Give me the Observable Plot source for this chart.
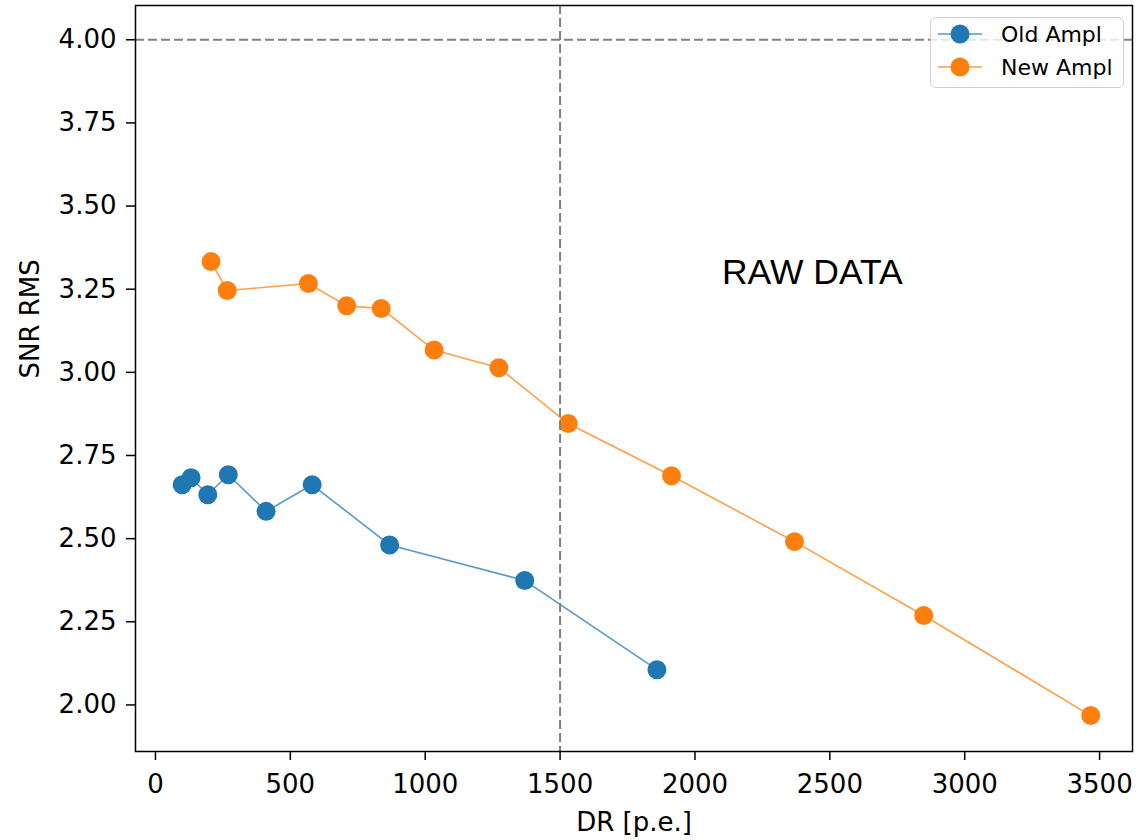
<!DOCTYPE html>
<html>
<head>
<meta charset="utf-8">
<script src="https://cdn.jsdelivr.net/npm/d3@7"></script>
<script src="https://cdn.jsdelivr.net/npm/@observablehq/plot@0.6"></script>
<style>
  html, body { margin: 0; padding: 0; background: #fff; }
  #wrap { position: relative; width: 1137px; height: 840px; }
  #legend {
    position: absolute; left: 930px; top: 17px; width: 194px; height: 71px;
    border: 1.5px solid #d0d0d0; border-radius: 6px; background: rgba(255,255,255,0.8);
    font-family: "DejaVu Sans", sans-serif; font-size: 22px; color: #000; box-sizing: border-box;
  }
  .row { position: absolute; left: 0; height: 30px; display: flex; align-items: center; }
  .row svg { margin-left: 6px; }
  .row span { margin-left: 18px; }
</style>
</head>
<body>
<div id="wrap"></div>
<script>
const oldDR  = [99, 132, 194, 270, 410, 581, 868, 1369, 1859];
const oldSNR = [2.662, 2.683, 2.632, 2.692, 2.582, 2.662, 2.481, 2.374, 2.106];
const newDR  = [206, 266, 567, 709, 837, 1033, 1273, 1530, 1913, 2369, 2848, 3467];
const newSNR = [3.333, 3.246, 3.267, 3.200, 3.192, 3.067, 3.014, 2.846, 2.689, 2.491, 2.269, 1.968];
const seriesNames = ["Old Ampl", "New Ampl"];
const seriesColors = ["#1f77b4", "#ff7f0e"];
const xTicks = [0, 500, 1000, 1500, 2000, 2500, 3000, 3500];
const yTicks = [2.00, 2.25, 2.50, 2.75, 3.00, 3.25, 3.50, 3.75, 4.00];
const hLine = 4.0;
const vLine = 1500;
const annotation = "RAW DATA";
const annX = 2100, annY = 3.265;
const xLabel = "DR [p.e.]";
const yLabel = "SNR RMS";

const oldData = oldDR.map((x, i) => ({x, y: oldSNR[i]}));
const newData = newDR.map((x, i) => ({x, y: newSNR[i]}));

const chart = Plot.plot({
  width: 1137,
  height: 840,
  marginLeft: 135,
  marginRight: 5,
  marginTop: 5,
  marginBottom: 89,
  style: {fontFamily: "DejaVu Sans, sans-serif", fontSize: "26px", color: "black", background: "white", overflow: "visible"},
  x: {domain: [-74, 3622]},
  y: {domain: [1.86, 4.103]},
  marks: [
    Plot.line(oldData, {x: "x", y: "y", stroke: seriesColors[0], strokeWidth: 1.6, strokeOpacity: 0.75}),
    Plot.dot(oldData, {x: "x", y: "y", r: 9.5, fill: seriesColors[0]}),
    Plot.line(newData, {x: "x", y: "y", stroke: seriesColors[1], strokeWidth: 1.6, strokeOpacity: 0.75}),
    Plot.dot(newData, {x: "x", y: "y", r: 9.5, fill: seriesColors[1]}),
    Plot.ruleY([hLine], {stroke: "#808080", strokeWidth: 2, strokeDasharray: "9,4"}),
    Plot.ruleX([vLine], {stroke: "#808080", strokeWidth: 2, strokeDasharray: "9,4"}),
    Plot.text([{x: annX, y: annY, t: annotation}], {x: "x", y: "y", text: "t", textAnchor: "start", lineAnchor: "bottom", fontSize: 35.5, fontFamily: "Liberation Sans, Arial, sans-serif", fill: "black"}),
    Plot.frame({stroke: "black", strokeWidth: 1.5}),
    Plot.axisX({ticks: xTicks, tickSize: 9, tickPadding: 14, tickFormat: d => String(d), label: null, strokeWidth: 1.5}),
    Plot.axisY({ticks: yTicks, tickSize: 9, tickPadding: 10, tickFormat: d3.format(".2f"), label: null, strokeWidth: 1.5}),
    Plot.text([xLabel], {frameAnchor: "bottom", dy: 71, text: d => d, lineAnchor: "middle", fill: "black"}),
    Plot.text([yLabel], {frameAnchor: "left", dx: -105, rotate: -90, text: d => d, lineAnchor: "middle", fill: "black"})
  ]
});

const wrap = document.getElementById("wrap");
wrap.appendChild(chart);

const legend = document.createElement("div");
legend.id = "legend";
seriesNames.forEach((name, i) => {
  const row = document.createElement("div");
  row.className = "row";
  row.style.top = (i === 0 ? 1 : 34) + "px";
  row.innerHTML = `<svg width="46" height="30"><line x1="1" x2="45" y1="15" y2="15" stroke="${seriesColors[i]}" stroke-width="1.6" stroke-opacity="0.75"/><circle cx="23" cy="15" r="9.5" fill="${seriesColors[i]}"/></svg><span>${name}</span>`;
  legend.appendChild(row);
});
wrap.appendChild(legend);
</script>
</body>
</html>
